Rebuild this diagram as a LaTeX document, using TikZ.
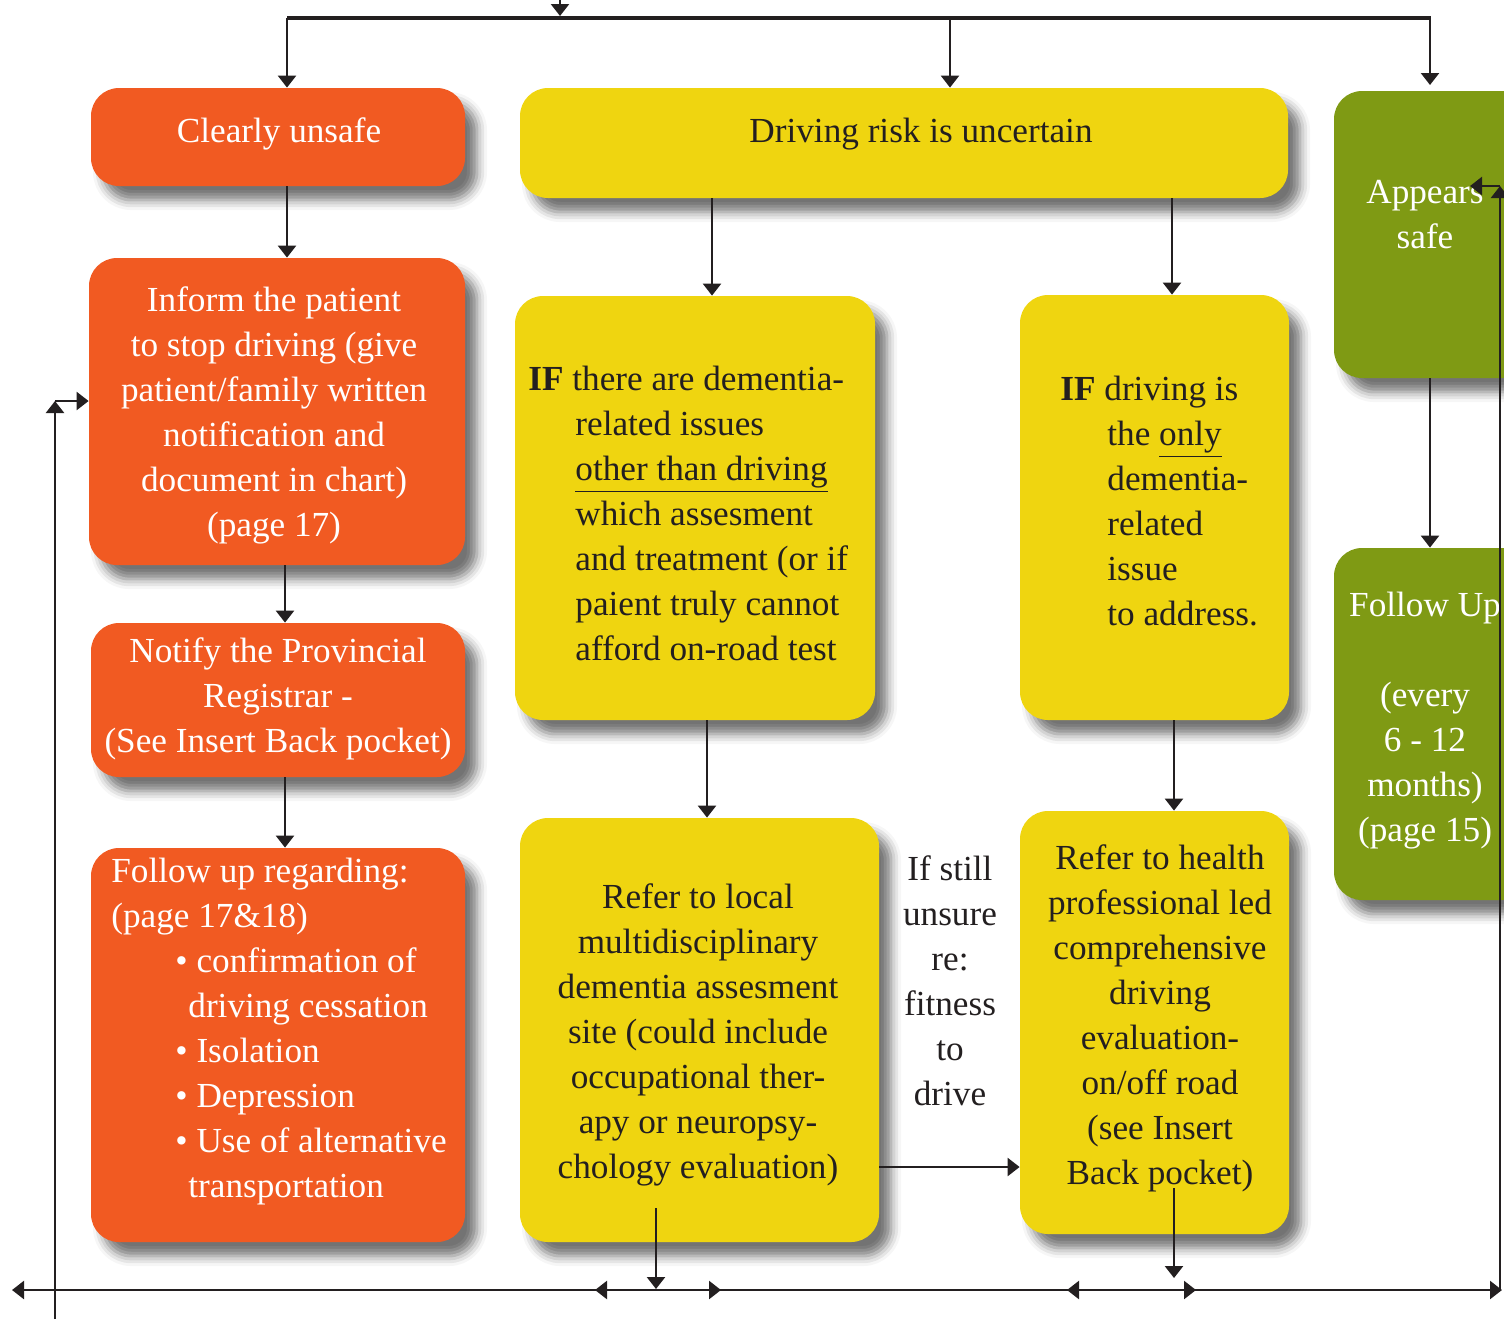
\documentclass[tikz,border=0pt]{standalone}
\usepackage{fontspec}
\setmainfont{Liberation Serif}
\usetikzlibrary{arrows.meta,fit,shadows.blur,calc}
\definecolor{orng}{HTML}{F15A22}
\definecolor{yel}{HTML}{EFD510}
\definecolor{grn}{HTML}{7F9A14}
\definecolor{ink}{HTML}{231F20}
\begin{document}
\begin{tikzpicture}[x=0.5pt,y=-0.5pt,
  box/.style={rounded corners=14pt, inner sep=0pt, draw=none,
    blur shadow={shadow xshift=6pt, shadow yshift=-7pt, shadow blur radius=5pt, shadow opacity=55}},
  obox/.style={box, fill=orng},
  ybox/.style={box, fill=yel},
  gbox/.style={box, fill=grn},
  txt/.style={font=\fontsize{17.6}{22.5}\selectfont, align=center, inner sep=0pt},
  wtxt/.style={txt, text=white},
  dtxt/.style={txt, text=ink},
  lw/.style={draw=ink, line width=1.2pt},
  conn/.style={lw, -{Triangle[length=6pt,width=9pt]}},
]
\useasboundingbox (0,0) rectangle (1504,1319);

% boxes
\node[obox, fit={(91,88) (465,186)}] (cu) {};
\node[ybox, fit={(520,88) (1288,198)}] (dr) {};
\node[gbox, fit={(1334,91) (1530,378)}] (as) {};
\node[obox, fit={(89,258) (465,565)}] (inf) {};
\node[obox, fit={(91,623) (465,777)}] (nt) {};
\node[obox, fit={(91,848) (465,1242)}] (fu) {};
\node[ybox, fit={(515,296) (875,720)}] (ift) {};
\node[ybox, fit={(1020,295) (1289,720)}] (ifd) {};
\node[gbox, fit={(1334,548) (1530,900)}] (fw) {};
\node[ybox, fit={(520,818) (879,1242)}] (rl) {};
\node[ybox, fit={(1020,811) (1289,1234)}] (rh) {};

% texts
\node[wtxt] (tcu) at (279,134) {Clearly unsafe};
\node[dtxt] (tdr) at (921,134) {Driving risk is uncertain};
\node[wtxt] (tas) at (1425,215) {Appears\\safe};
\node[wtxt] (tinf) at (274,415) {Inform the patient\\to stop driving (give\\patient/family written\\notification and\\document in chart)\\(page 17)};
\node[wtxt] (tnt) at (278,699) {Notify the Provincial\\Registrar -\\(See Insert Back pocket)};
\node[wtxt, align=left, anchor=north west] (tfu) at (111,858) {Follow up regarding:\\(page 17\&18)\\
\hspace*{32pt}• confirmation of\\\hspace*{38.5pt}driving cessation\\
\hspace*{32pt}• Isolation\\\hspace*{32pt}• Depression\\\hspace*{32pt}• Use of alternative\\\hspace*{38.5pt}transportation};
\node[dtxt, align=left, anchor=north west] (tift) at (528,366) {\textbf{IF} there are dementia-\\
\hspace*{23.5pt}related issues\\\hspace*{23.5pt}\underline{other than driving}\\
\hspace*{23.5pt}which assesment\\\hspace*{23.5pt}and treatment (or if\\
\hspace*{23.5pt}paient truly cannot\\\hspace*{23.5pt}afford on-road test};
\node[dtxt, align=left, anchor=north west] (tifd) at (1060,376) {\textbf{IF} driving is\\
\hspace*{23.5pt}the \underline{only}\\\hspace*{23.5pt}dementia-\\\hspace*{23.5pt}related\\
\hspace*{23.5pt}issue\\\hspace*{23.5pt}to address.};
\node[wtxt] (tfw) at (1425,721) {Follow Up\\[22.5pt](every\\6 - 12\\months)\\(page 15)};
\node[dtxt] (trl) at (698,1035) {Refer to local\\multidisciplinary\\dementia assesment\\site (could include\\occupational ther-\\apy or neuropsy-\\chology evaluation)};
\node[dtxt] (tun) at (950,981) {If still\\unsure\\re:\\fitness\\to\\drive};
\node[dtxt] (trh) at (1160,1018) {Refer to health\\professional led\\comprehensive\\driving\\evaluation-\\on/off road\\(see Insert\\Back pocket)};

% top distribution
\coordinate (tin) at (560,0);
\coordinate (tl) at (287,18);
\coordinate (tm) at (950,18);
\coordinate (tr) at (1430,16);
\draw[conn] (tin) -- (560,16);
\draw[draw=ink, line width=2pt] (tl) -- (1430,18);
\draw[conn] (tl) -- (cu.north -| tl);
\draw[conn] (tm) -- (dr.north -| tm);
\draw[conn] (tr) -- (1430,85);

% vertical flows
\draw[conn] (cu.south -| 287,0) -- (inf.north -| 287,0);
\draw[conn] (inf.south -| 285,0) -- (nt.north -| 285,0);
\draw[conn] (nt.south -| 285,0) -- (fu.north -| 285,0);
\draw[conn] (dr.south -| 712,0) -- (ift.north -| 712,0);
\draw[conn] (dr.south -| 1172,0) -- (ifd.north -| 1172,0);
\draw[conn] (ift.south -| 707,0) -- (rl.north -| 707,0);
\draw[conn] (ifd.south -| 1174,0) -- (rh.north -| 1174,0);
\draw[conn] (as.south -| 1430,0) -- (fw.north -| 1430,0);
\draw[conn] (rl.east |- 0,1167) -- (rh.west |- 0,1167);

% bottom line and returns
\coordinate (bl) at (12,1290);
\coordinate (br) at (1502,1290);
\draw[lw, {Triangle[length=6pt,width=9pt]}-{Triangle[length=6pt,width=9pt]}] (bl) -- (br);
\draw[conn] (620,1290) -- (595,1290);
\draw[conn] (695,1290) -- (721,1290);
\draw[conn] (1093,1290) -- (1067,1290);
\draw[conn] (1170,1290) -- (1196,1290);
\coordinate (rls) at (656,1208);
\coordinate (rhs) at (1174,1188);
\draw[conn] (rls) -- (656,1289);
\draw[conn] (rhs) -- (1174,1278);

\coordinate (lb) at (55,1319);
\coordinate (lt) at (55,401);
\draw[conn] (lb) -- (lt);
\draw[conn] (lt) -- (lt -| inf.west);

\coordinate (rb) at (1500,1290);
\coordinate (rt) at (1500,186);
\draw[conn] (rb) -- (rt);
\draw[conn] (rt) -- (1470,186);
\end{tikzpicture}
\end{document}
